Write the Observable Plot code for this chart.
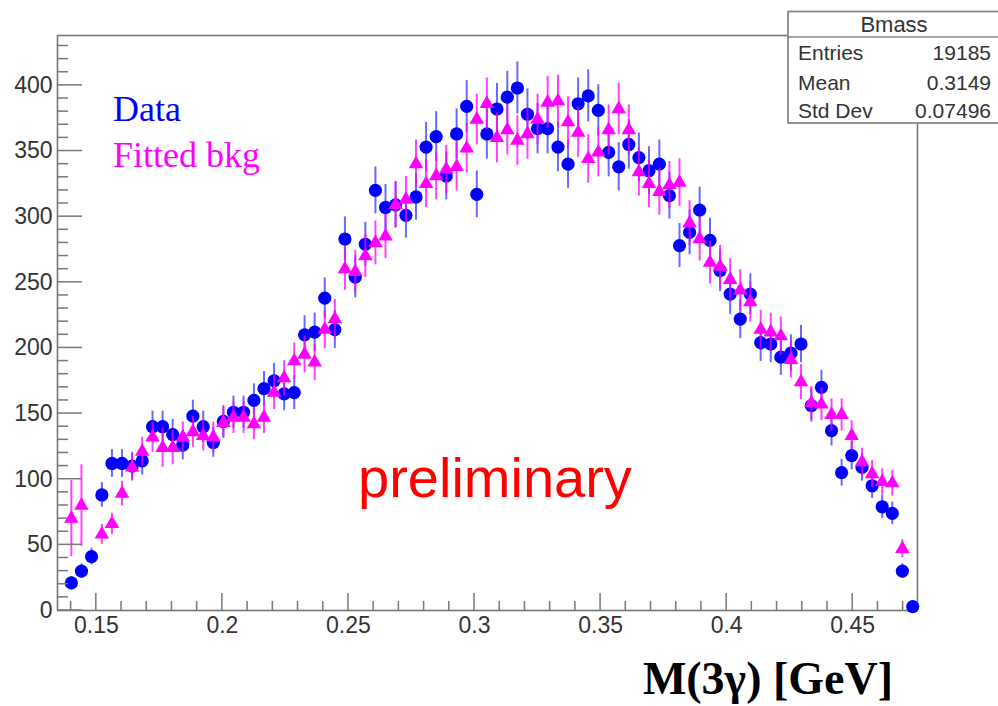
<!DOCTYPE html>
<html>
<head>
<meta charset="utf-8">
<script src="https://cdn.jsdelivr.net/npm/d3@7"></script>
<script src="https://cdn.jsdelivr.net/npm/@observablehq/plot@0.6"></script>
<style>
  html, body { margin: 0; padding: 0; background: #fff; }
  #chart { width: 998px; height: 706px; }
</style>
</head>
<body>
<div id="chart"></div>
<script>
// ---- data ----
const massGeV = [0.1401,0.1441,0.1481,0.1522,0.1562,0.1602,0.1642,0.1682,0.1723,0.1763,
  0.1803,0.1843,0.1883,0.1924,0.1964,0.2004,0.2044,0.2084,0.2125,0.2165,
  0.2205,0.2245,0.2285,0.2326,0.2366,0.2406,0.2446,0.2486,0.2527,0.2567,
  0.2607,0.2647,0.2687,0.2728,0.2768,0.2808,0.2848,0.2888,0.2929,0.2969,
  0.3009,0.3049,0.3089,0.3130,0.3170,0.3210,0.3250,0.3290,0.3331,0.3371,
  0.3411,0.3451,0.3491,0.3532,0.3572,0.3612,0.3652,0.3692,0.3733,0.3773,
  0.3813,0.3853,0.3893,0.3934,0.3974,0.4014,0.4054,0.4094,0.4135,0.4175,
  0.4215,0.4255,0.4295,0.4336,0.4376,0.4416,0.4456,0.4496,0.4537,0.4577,
  0.4617,0.4657,0.4697,0.4738];

const dataCounts = [21,30,41,88,112,112,110,114,140,140,
  134,126,148,140,128,144,151,151,160,169,
  175,165,166,210,212,238,214,283,254,279,
  320,307,309,301,315,353,361,331,363,384,
  317,363,382,391,398,378,367,367,353,340,
  386,392,381,349,338,355,345,335,340,316,
  278,288,305,282,259,241,222,241,204,203,
  193,196,203,156,170,137,105,118,109,95,
  79,74,30,3];

const dataErrors = [4.6,5.5,6.4,9.4,10.6,10.6,10.5,10.7,11.8,11.8,
  11.6,11.2,12.2,11.8,11.3,12.0,12.3,12.3,12.6,13.0,
  13.2,12.8,12.9,14.5,14.6,15.4,14.6,16.8,15.9,16.7,
  17.9,17.5,17.6,17.3,17.7,18.8,19.0,18.2,19.1,19.6,
  17.8,19.1,19.5,19.8,19.9,19.4,19.2,19.2,18.8,18.4,
  19.6,19.8,19.5,18.7,18.4,18.8,18.6,18.3,18.4,17.8,
  16.7,17.0,17.5,16.8,16.1,15.5,14.9,15.5,14.3,14.2,
  13.9,14.0,14.2,12.5,13.0,11.7,10.2,10.9,10.4,9.7,
  8.9,8.6,5.5,1.7];

const bkgCounts = [70,80,null,58,66,89,109,121,132,124,
  124,132,136,133,132,143,147,147,142,147,
  166,177,190,195,189,214,222,260,258,270,
  280,285,309,313,340,325,331,336,338,352,
  374,386,360,366,358,363,374,387,388,372,
  364,344,349,366,382,366,334,325,319,324,
  326,295,283,265,262,252,244,235,214,212,
  209,191,174,158,157,149,149,133,113,104,
  98,97,47,null];

const bkgErrors = [29,31,null,7.6,8.1,9.4,10.4,11.0,11.5,15,
  13,11.5,11.7,11.5,11.5,12.0,12.1,12.1,11.9,12.1,
  12.9,13.3,13.8,14.0,13.7,14.6,14.9,16.1,16.1,16.4,
  16.7,16.9,17.6,17.7,18.4,18.0,18.2,18.3,18.4,18.8,
  19.3,19.6,19.0,19.1,18.9,19.1,19.3,19.7,19.7,19.3,
  19.1,18.5,18.7,19.1,19.5,19.1,18.3,18.0,17.9,18.0,
  18.1,17.2,16.8,16.3,16.2,15.9,15.6,15.3,14.6,14.6,
  14.5,13.8,13.2,12.6,12.5,12.2,12.2,11.5,10.6,10.2,
  9.9,9.8,6.9,null];

const xDomain = [0.1346, 0.4757];
const yDomain = [0, 438];
const yMajorTicks = [0,50,100,150,200,250,300,350,400];
const yMinorTicks = [0,10,20,30,40,50,60,70,80,90,100,110,120,130,140,150,160,170,180,190,200,
  210,220,230,240,250,260,270,280,290,300,310,320,330,340,350,360,370,380,390,400,410,420,430];
const xMajorTicks = [0.15,0.2,0.25,0.3,0.35,0.4,0.45];
const xTickLabels = ["0.15","0.2","0.25","0.3","0.35","0.4","0.45"];
const xMinorTicks = [0.14,0.15,0.16,0.17,0.18,0.19,0.2,0.21,0.22,0.23,0.24,0.25,0.26,0.27,0.28,0.29,
  0.3,0.31,0.32,0.33,0.34,0.35,0.36,0.37,0.38,0.39,0.4,0.41,0.42,0.43,0.44,0.45,0.46,0.47];

const legendLabels = ["Data", "Fitted bkg"];
const statsTitle = "Bmass";
const statsNames = ["Entries", "Mean", "Std Dev"];
const statsValues = ["19185", "0.3149", "0.07496"];
const xTitle = "M(3\u03b3) [GeV]";
const watermark = "preliminary";

// ---- tables ----
const dataRows = massGeV.map((x, i) => ({x, y: dataCounts[i], e: dataErrors[i]})).filter(d => d.y != null);
const bkgRows = massGeV.map((x, i) => ({x, y: bkgCounts[i], e: bkgErrors[i]})).filter(d => d.y != null);

const axisColor = "#777";
const labelColor = "#333";
const sans = "'Liberation Sans', Arial, Helvetica, sans-serif";
const serif = "'Liberation Serif', 'Times New Roman', serif";

const plot = Plot.plot({
  width: 998,
  height: 706,
  marginLeft: 57,
  marginRight: 81,
  marginTop: 35,
  marginBottom: 96,
  style: {background: "#fff", overflow: "visible"},
  x: {domain: xDomain, label: null},
  y: {domain: yDomain, label: null},
  marks: [
    Plot.frame({stroke: axisColor, strokeWidth: 1.6}),
    // tick labels
    Plot.axisY({ticks: yMajorTicks, tickSize: 0, tickPadding: 5, fontSize: 23, fontFamily: sans, fill: labelColor, label: null}),
    Plot.axisX({ticks: xMajorTicks, tickSize: 0, tickPadding: 6, fontSize: 23, fontFamily: sans, fill: labelColor, label: null,
      tickFormat: d => xTickLabels[xMajorTicks.indexOf(d)]}),
    // data
    Plot.ruleX(dataRows, {x: "x", y1: d => d.y - d.e, y2: d => d.y + d.e, stroke: "#2a2aff", strokeOpacity: 0.7, strokeWidth: 2}),
    Plot.dot(dataRows, {x: "x", y: "y", r: 6.6, fill: "#0000ff", stroke: null}),
    Plot.ruleX(bkgRows, {x: "x", y1: d => d.y - d.e, y2: d => d.y + d.e, stroke: "#ff00ff", strokeOpacity: 0.75, strokeWidth: 2}),
    Plot.dot(bkgRows, {x: "x", y: "y", symbol: "triangle", r: 5.4, fill: "#ff00ff", stroke: null})
  ]
});

document.getElementById("chart").appendChild(plot);

const svg = d3.select(plot);
const sx = plot.scale("x"), sy = plot.scale("y");
const x0 = sx.range[0], y0 = sy.range[0];

// ---- inward ticks (ROOT style), positioned through the plot's own scales ----
const ticks = svg.append("g").attr("stroke", axisColor).attr("stroke-width", 1.5);
yMinorTicks.forEach(v => {
  const len = yMajorTicks.includes(v) ? 25 : 11;
  const y = sy.apply(v);
  ticks.append("line").attr("x1", x0).attr("x2", x0 + len).attr("y1", y).attr("y2", y);
});
xMinorTicks.forEach(v => {
  const len = xMajorTicks.includes(v) ? 17 : 9;
  const x = sx.apply(v);
  ticks.append("line").attr("x1", x).attr("x2", x).attr("y1", y0).attr("y2", y0 - len);
});

// ---- annotations (legend, watermark, axis title, stats box) ----
svg.append("text").attr("x", 113).attr("y", 121).attr("text-anchor", "start")
  .attr("font-family", serif).attr("font-size", 36).attr("fill", "#0000ff")
  .text(legendLabels[0]);
svg.append("text").attr("x", 113).attr("y", 167).attr("text-anchor", "start")
  .attr("font-family", serif).attr("font-size", 36).attr("fill", "#ff00ff")
  .text(legendLabels[1]);

svg.append("text").attr("x", 358).attr("y", 497).attr("text-anchor", "start")
  .attr("font-family", sans).attr("font-size", 56).attr("fill", "#ff0000")
  .text(watermark);

svg.append("text").attr("x", 893).attr("y", 694).attr("text-anchor", "end")
  .attr("font-family", serif).attr("font-weight", "bold").attr("font-size", 46).attr("fill", "#000")
  .text(xTitle);

const box = svg.append("g");
box.append("rect").attr("x", 788).attr("y", 11.5).attr("width", 212).attr("height", 111.5)
  .attr("fill", "#fff").attr("stroke", "#888").attr("stroke-width", 1.8);
box.append("line").attr("x1", 788).attr("x2", 998).attr("y1", 37).attr("y2", 37)
  .attr("stroke", "#888").attr("stroke-width", 1.6);
box.append("text").attr("x", 894).attr("y", 32).attr("text-anchor", "middle")
  .attr("font-family", sans).attr("font-size", 22).attr("fill", labelColor).text(statsTitle);
const rowY = [60, 89.5, 118];
statsNames.forEach((n, i) => {
  box.append("text").attr("x", 798).attr("y", rowY[i]).attr("text-anchor", "start")
    .attr("font-family", sans).attr("font-size", 21).attr("fill", labelColor).text(n);
  box.append("text").attr("x", 991).attr("y", rowY[i]).attr("text-anchor", "end")
    .attr("font-family", sans).attr("font-size", 21).attr("fill", labelColor).text(statsValues[i]);
});
</script>
</body>
</html>
